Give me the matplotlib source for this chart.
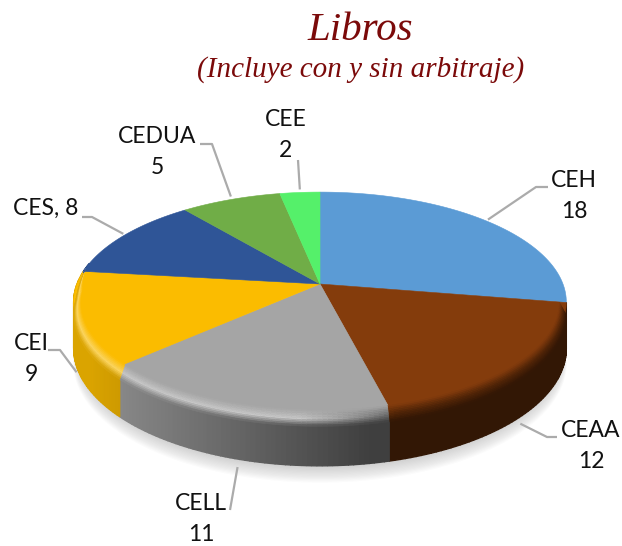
import numpy as np
import matplotlib
matplotlib.use("Agg")
import matplotlib.pyplot as plt

# data
labels = ["CEH", "CEAA", "CELL", "CEI", "CES", "CEDUA", "CEE"]
values = [18, 12, 11, 9, 8, 5, 2]
colors = ["#5B9BD5", "#843C0C", "#A5A5A5", "#FBBC00", "#2F5597", "#70AD47", "#55F06A"]
title = "Libros"
subtitle = "(Incluye con y sin arbitraje)"

# label text, text position and leader line bend points (in pixels)
label_text = ["CEH\n18", "CEAA\n12", "CELL\n11", "CEI\n9", "CES, 8", "CEDUA\n5", "CEE\n2"]
label_pos = [(574, 196), (591, 446), (201, 519), (31, 359), (46, 208), (157, 152), (286, 135)]
leader_bend = [[(536, 187), (548, 187)], [(547, 437), (557, 437)], [(230, 510)],
               [(60, 350), (48, 350)], [(92, 217), (82, 217)], [(212, 144), (200, 144)], [(298, 160)]]
leader_gap = [-2, 7, 8, 6, -2, -3, -3]

# pie projection
CX, CY = 320, 284
RX, RY, K = 243, 107, 0.164
DEPTH = 45
BEVEL_IN_X, BEVEL_IN_Y, BEVEL_OUT = 7, 2, 12


def project(theta, r=1.0, z=0.0):
    # theta clockwise from top, simple perspective so the far side is squashed
    u, v = r * np.sin(theta), r * np.cos(theta)
    w = 1 + K * v
    return CX + RX * u / w, CY - RY * v / w + z / w


def to_rgb(c):
    return np.array(matplotlib.colors.to_rgb(c))


def side_factor(x):
    return np.clip(0.87 - (x - 90) / 298 * 0.52, 0.38, 0.87)


def highlight(base, x):
    h = np.clip(1.25 - (x - 300) / 100 * 0.65, 0.6, 1.25)
    if h >= 1:
        return base + (1 - base) * (h - 1) * 1.5
    return base * h


def hidden(theta):
    # back of the pie and the right edge of the first slice have no wall
    return np.cos(theta) > 0.2 or (np.sin(theta) > 0 and np.cos(theta) > -0.17)


fig = plt.figure(figsize=(6.22, 5.46), dpi=100)
ax = fig.add_axes([0, 0, 1, 1])
ax.set_xlim(0, 622)
ax.set_ylim(546, 0)
ax.axis("off")

edges = np.cumsum([0] + values) / sum(values) * 2 * np.pi

# soft shadow under the pie
t = np.linspace(np.pi * 0.55, np.pi * 1.6, 200)
for grow in np.linspace(1, 14, 14):
    x, y = project(t, z=DEPTH + grow)
    x = CX + (x - CX) * (0.985 + grow * 0.0012)
    ax.fill(x, y, color="#7f7f7f", alpha=0.028, lw=0, zorder=1)

# side wall
for i, c in enumerate(colors):
    th = np.linspace(edges[i], edges[i + 1], 60)
    base = to_rgb(c)
    for a, b in zip(th[:-1], th[1:]):
        if hidden((a + b) / 2):
            continue
        xa, ya = project(a)
        xb, yb = project(b)
        xa2, ya2 = project(a, z=DEPTH)
        xb2, yb2 = project(b, z=DEPTH)
        f = side_factor((xa + xb) / 2)
        ax.fill([xa, xb, xb2, xa2], [ya, yb, yb2, ya2], fc=base * f, ec=base * f, lw=1.0, zorder=2)

# top face
for i, c in enumerate(colors):
    th = np.linspace(edges[i], edges[i + 1], 80)
    x, y = project(th)
    ax.fill(np.r_[CX, x], np.r_[CY, y], color=c, lw=0.4, zorder=3)

# bevel round the front rim
steps = np.linspace(0, 1, 11)
for i, c in enumerate(colors):
    th = np.linspace(edges[i], edges[i + 1], 60)
    base = to_rgb(c)
    for a, b in zip(th[:-1], th[1:]):
        m = (a + b) / 2
        v = np.cos(m)
        w = np.clip((0.15 - v) / 0.2, 0, 1)
        if w <= 0 or hidden(m):
            continue
        xm, _ = project(m)
        hi = highlight(base, xm)
        side = base * side_factor(xm)
        for s0, s1 in zip(steps[:-1], steps[1:]):
            pts = []
            for ang, s in [(a, s0), (b, s0), (b, s1), (a, s1)]:
                # s=0 on the flat face, s=1 down on the wall
                xr, yr = project(ang, z=BEVEL_OUT * s * w)
                off = (1 - s) * w
                pts.append((xr - BEVEL_IN_X * off * np.sin(ang), yr + BEVEL_IN_Y * off * np.cos(ang)))
            sm = (s0 + s1) / 2
            if sm < 0.55:
                col = base + (hi - base) * sm / 0.55
            else:
                col = hi + (side - hi) * (sm - 0.55) / 0.45
            ax.fill(*zip(*pts), color=col, lw=0.4, zorder=4)

# leader lines and labels
for i, lab in enumerate(label_text):
    m = (edges[i] + edges[i + 1]) / 2
    depth = DEPTH if np.cos(m) < 0 else 0
    x0, y0 = project(m, z=depth)
    y0 += leader_gap[i]
    pts = [(x0, y0)] + leader_bend[i]
    ax.plot(*zip(*pts), color="#ABABAB", lw=1.6, zorder=5, solid_capstyle="butt")
    ax.text(label_pos[i][0], label_pos[i][1], lab, ha="center", va="center", fontsize=16.5,
            family="Lato", color="#111111", linespacing=1.55, zorder=6)

ax.text(360, 30, title, ha="center", va="center", fontsize=29.5, family="Liberation Serif",
        style="italic", color="#7B0A0A")
ax.text(361, 70, subtitle, ha="center", va="center", fontsize=21, family="Liberation Serif",
        style="italic", color="#7B0A0A")

fig.savefig("out.png", dpi=100)
